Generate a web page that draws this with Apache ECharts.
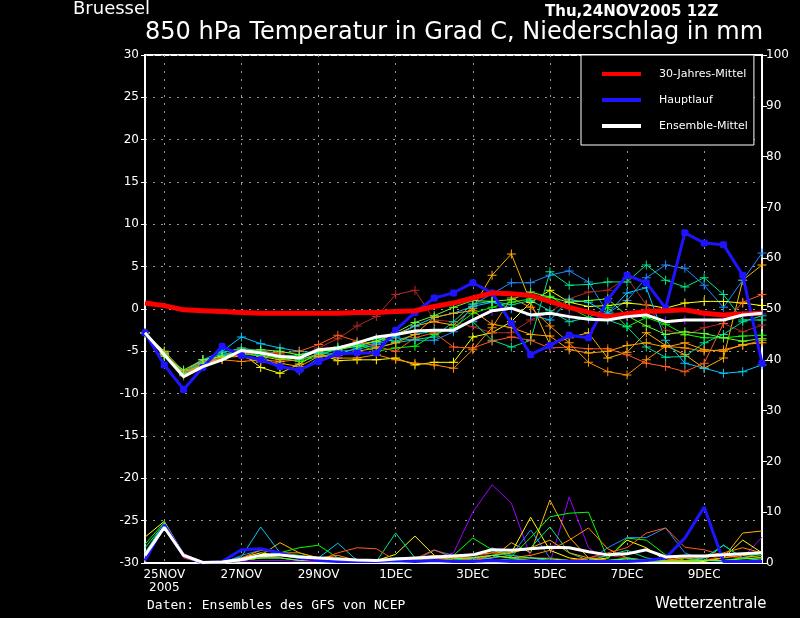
<!DOCTYPE html>
<html>
<head>
<meta charset="utf-8">
<script src="https://cdn.jsdelivr.net/npm/echarts@6/dist/echarts.min.js"></script>
<style>
html, body { margin: 0; padding: 0; background: #000; }
#chart { width: 800px; height: 618px; }
</style>
</head>
<body>
<div id="chart"></div>
<script>
// 12-hourly forecast steps, 24NOV2005 12Z .. 10DEC2005 12Z
var steps = ['24NOV12','25NOV00','25NOV12','26NOV00','26NOV12','27NOV00','27NOV12','28NOV00','28NOV12',
  '29NOV00','29NOV12','30NOV00','30NOV12','01DEC00','01DEC12','02DEC00','02DEC12','03DEC00','03DEC12',
  '04DEC00','04DEC12','05DEC00','05DEC12','06DEC00','06DEC12','07DEC00','07DEC12','08DEC00','08DEC12',
  '09DEC00','09DEC12','10DEC00','10DEC12'];
var tickLabels = ['25NOV\n2005','27NOV','29NOV','1DEC','3DEC','5DEC','7DEC','9DEC'];

// temperature 850 hPa (left axis)
var tempClimate = [0.7,0.4,-0.1,-0.2,-0.3,-0.4,-0.5,-0.5,-0.5,-0.5,-0.5,-0.4,-0.4,-0.3,-0.2,0.3,0.7,1.3,1.9,1.8,1.6,0.9,0.2,-0.4,-0.9,-0.6,-0.3,-0.2,-0.1,-0.5,-0.7,-0.6,-0.5];
var tempMain = [-2.8,-6.6,-9.5,-6.9,-4.4,-5.5,-6.0,-6.8,-7.2,-6.2,-5.3,-5.2,-5.2,-2.5,-0.4,1.3,1.9,3.1,1.9,-1.7,-5.4,-4.3,-3.1,-3.4,1.1,4.0,3.1,0.1,9.0,7.8,7.6,4.0,-6.4];
var tempMean = [-2.8,-5.4,-8.0,-6.8,-6.0,-4.9,-5.2,-5.6,-5.8,-4.8,-4.6,-4.0,-3.3,-3.0,-2.6,-2.5,-2.5,-1.3,-0.2,0.1,-0.7,-0.5,-0.9,-1.2,-1.3,-0.9,-0.7,-1.5,-1.3,-1.3,-1.3,-0.7,-0.5];

var tempGold   = [-2.8,-5.2,-7.6,-6.5,-5.8,-5.2,-5.6,-6.0,-5.8,-5.0,-4.8,-4.2,-3.8,-3.0,-2.0,-1.5,-1.9,0.1,4.0,6.5,0.8,-4.2,-3.4,-2.8,-5.8,-5.1,-2.8,-4.3,-5.4,-7.0,-5.8,3.4,5.2];
var tempBlue   = [-2.8,-5.4,-7.8,-6.6,-5.4,-5.0,-5.5,-6.8,-7.3,-5.8,-5.0,-4.8,-4.2,-3.4,-3.7,-3.7,-2.7,0.5,1.8,3.1,3.1,4.0,4.5,3.2,-0.5,1.0,3.7,5.2,4.8,2.8,0.2,3.4,6.6];
var tempYellow = [-2.8,-5.0,-7.4,-6.0,-5.6,-5.2,-6.9,-7.6,-6.5,-5.2,-6.1,-6.0,-6.0,-5.8,-6.6,-6.3,-6.3,-3.3,-2.8,-1.5,0.8,2.2,0.8,0.3,0.4,0.7,0.5,0.1,0.7,0.9,0.9,0.7,0.4];
var tempDarkRed= [-2.8,-5.3,-7.4,-6.2,-5.5,-4.6,-5.0,-5.4,-5.6,-4.6,-3.5,-2.0,-0.9,1.7,2.2,-1.3,-1.5,-2.1,-2.8,-2.8,-1.3,-0.4,1.2,2.0,2.2,3.7,0.5,-2.5,-3.1,-2.2,-1.7,-2.7,-1.9];
var tempCyan   = [-2.8,-5.3,-7.5,-6.0,-5.0,-3.3,-4.1,-4.6,-5.0,-5.2,-5.4,-4.6,-4.0,-3.2,-2.0,-1.0,-0.5,0.3,0.8,0.1,-0.7,-1.3,1.1,0.8,-0.5,1.9,2.5,-3.7,-6.4,-7.0,-7.6,-7.4,-6.6];
var tempSpring = [-2.8,-5.2,-7.6,-6.4,-5.5,-4.8,-5.2,-5.6,-5.4,-4.9,-4.5,-4.0,-3.5,-3.8,-3.0,-2.6,-2.4,-1.5,-3.7,-4.5,-3.7,4.4,2.8,2.9,3.2,3.2,5.2,3.4,2.6,3.7,1.7,-1.3,-1.3];
var tempGreen  = [-2.8,-5.5,-7.8,-6.8,-5.9,-5.3,-5.5,-5.8,-6.2,-5.6,-4.6,-4.2,-5.0,-4.6,-4.4,-3.0,-2.2,-0.5,0.2,0.8,1.2,1.5,0.2,-1.0,0.2,-2.1,-1.0,-1.8,-3.0,-3.4,-3.4,-3.2,-3.1];
var tempOrRed  = [-2.8,-5.3,-7.4,-6.2,-5.8,-5.4,-5.0,-5.2,-5.0,-4.2,-3.1,-3.8,-4.4,-5.0,-3.4,-2.8,-4.5,-4.6,-3.8,-3.3,-3.7,-4.6,-4.5,-4.7,-4.7,-5.4,-6.4,-6.8,-7.4,-6.4,-1.7,0.8,1.7];
var tempOrange = [-2.8,-5.4,-7.7,-6.6,-6.0,-6.2,-6.0,-6.2,-6.0,-5.4,-5.8,-5.8,-5.4,-6.0,-6.4,-6.6,-7.0,-4.8,-2.2,1.3,0.2,-2.0,-4.0,-6.3,-7.4,-7.8,-6.0,-4.4,-4.6,-5.0,-4.8,-4.3,-3.7];
var tempTeal   = [-2.8,-5.2,-7.5,-6.3,-5.2,-4.6,-5.0,-5.5,-6.0,-5.3,-4.8,-4.2,-4.6,-4.0,-3.6,-3.3,-1.5,0.6,0.9,0.5,1.0,-0.2,-1.5,-1.0,-1.3,-2.1,-4.5,-5.7,-5.6,-4.0,-3.0,-1.5,-0.8];
var tempAmber  = [-2.8,-5.3,-7.6,-6.5,-5.7,-5.6,-6.3,-6.4,-6.8,-5.6,-5.5,-5.0,-4.6,-4.0,-3.0,-1.0,-0.5,-0.2,-1.8,-2.2,-3.0,-3.2,-4.8,-5.2,-5.0,-4.3,-4.0,-4.5,-4.0,-4.8,-5.0,-4.2,-4.0];
var tempLime   = [-2.8,-5.6,-7.2,-6.0,-5.6,-5.0,-4.8,-5.0,-5.4,-5.0,-4.8,-4.4,-3.8,-2.8,-1.6,-0.8,0.2,1.0,0.9,1.1,2.0,1.4,0.8,1.0,1.2,-0.8,-2.0,-3.0,-2.7,-2.9,-3.4,-3.8,-3.5];
var tempPurple = [-2.8,-5.4,-7.9,-6.7,-5.9,-4.9,-5.2,-5.5,-5.7,-4.8,-4.6,-4.0,-3.4,-3.0,-2.7,-2.5,-2.4,-1.4,-0.3,0.0,-0.7,-0.6,-0.9,-1.2,-1.3,-1.0,-0.8,-1.4,-1.3,-1.3,-1.2,-0.8,-0.6];

// precipitation in mm (right axis)
var rainMain = [0.5,7.5,1.5,0,0.3,2.6,2.8,2.0,1.0,0.5,0.3,0.3,0.3,0.5,0.3,0.5,0.3,0.3,0.5,0.3,0.3,0.3,0.3,0.3,0.3,0.3,0.5,1.0,4.9,11.0,0.3,0.3,0.3];
var rainMean = [1.5,7.0,1.5,0.1,0.2,0.7,1.5,1.6,1.2,1.0,0.8,0.6,0.5,0.8,1.0,1.2,1.4,1.6,2.6,2.5,2.8,3.1,3.0,2.2,1.6,1.8,2.6,1.2,1.4,1.4,1.6,1.8,2.0];
var rainGold   = [1.0,7.8,1.2,0,0,0.5,1.5,4.0,2.0,1.0,0.5,0.3,0.2,0.5,0.8,1.0,1.5,0.5,1.0,4.0,2.0,12.4,5.1,1.0,0.5,0.5,0.3,0.5,1.0,0.5,1.0,5.9,6.3];
var rainBlue   = [0.5,7.6,1.4,0,0,1.5,2.5,2.0,1.0,0.5,0.3,0.3,0.5,0.3,0.5,2.5,1.5,1.0,3.0,1.5,6.5,1.0,0.5,0.5,3.0,5.0,5.0,6.9,2.0,0.5,0.3,0.3,0.5];
var rainYellow = [5.1,8.2,1.8,0.2,0,1.0,2.0,1.5,1.0,0.5,0.8,0.5,0.5,1.7,5.3,1.5,0.5,0.5,1.5,2.0,9.0,2.5,1.0,0.5,1.0,4.5,3.0,0.5,0.2,0.3,1.0,4.5,2.0];
var rainDarkRed= [0.3,7.4,1.0,0,0,0.5,1.0,1.0,0.5,0.3,0.5,0.5,0.3,0.3,0.5,0.5,0.8,1.0,2.0,1.5,1.0,1.0,0.5,1.0,1.5,1.0,0.5,1.0,0.5,0.5,1.5,1.0,1.5];
var rainCyan   = [1.2,8.0,1.5,0,0.2,1.2,7.1,2.0,1.0,1.0,3.9,0.5,0.3,0.2,0.3,0.5,0.5,0.8,1.0,1.5,1.0,0.5,0.3,0.5,0.3,0.5,0.5,0.3,0.3,0.5,0.5,0.3,0.5];
var rainSpring = [3.0,7.7,1.6,0,0,0.8,1.5,2.0,1.5,1.0,0.5,0.3,0.3,5.9,1.0,0.5,0.5,1.0,1.5,2.0,3.0,7.1,2.0,0.5,1.5,2.5,1.0,0.5,0.3,0.5,3.5,1.0,2.0];
var rainGreen  = [3.7,8.0,1.6,0,0,0.5,1.0,2.0,3.0,3.5,1.0,0.5,0.3,0.5,0.5,1.0,1.5,4.9,2.6,1.2,5.0,9.1,9.8,10.0,0.8,4.9,4.5,1.6,0.5,0.5,0.5,1.0,1.5];
var rainOrRed  = [0.5,7.5,1.2,0,0,1.0,1.5,1.5,1.0,0.5,2.0,3.0,2.8,0.5,0.8,2.6,1.0,0.5,1.5,1.0,0.5,0.5,0.5,1.0,2.0,3.0,5.9,6.9,3.1,2.6,1.5,1.0,0.5];
var rainOrange = [0.8,7.7,1.5,0,0,1.0,2.5,2.0,2.0,1.0,1.5,0.5,0.5,0.5,1.0,1.5,1.0,1.0,1.5,1.0,1.5,2.5,4.5,6.9,2.8,1.0,0.5,0.5,1.0,1.0,2.0,3.0,2.0];
var rainTeal   = [2.0,7.9,1.4,0,0,0.5,1.0,1.0,0.5,0.5,0.3,0.3,0.5,1.0,1.0,0.5,0.3,0.3,0.5,0.8,0.5,0.5,0.3,0.3,0.5,1.0,0.5,0.3,0.5,1.0,3.5,1.0,0.5];
var rainAmber  = [0.5,7.6,1.3,0,0,0.5,1.0,1.5,1.0,0.8,0.5,0.5,0.5,0.5,0.5,0.8,1.0,1.5,2.0,2.0,3.0,4.5,2.0,1.0,0.5,0.5,0.5,0.5,0.5,0.5,1.0,1.5,1.0];
var rainLime   = [1.5,7.8,1.5,0,0,0.5,1.0,1.0,0.5,0.5,0.5,0.3,0.3,0.5,0.5,0.5,0.8,1.0,1.5,1.0,1.0,0.8,0.5,0.5,0.5,0.8,0.5,0.3,0.3,0.5,0.5,0.8,1.0];
var rainPurple = [0.3,7.5,1.0,0,0,0.3,0.5,0.5,0.3,0.3,0.3,0.3,0.3,0.3,0.5,0.8,2.0,10.0,15.4,11.8,1.2,0,13.0,3.0,0.3,0.3,0.3,0.3,0.5,0.5,0.5,1.0,5.1];

var members = [
  ['#a000ff', tempPurple, rainPurple],
  ['#ffb400', tempGold, rainGold],
  ['#1e8cff', tempBlue, rainBlue],
  ['#ffff00', tempYellow, rainYellow],
  ['#b42828', tempDarkRed, rainDarkRed],
  ['#00c8ff', tempCyan, rainCyan],
  ['#00e68c', tempSpring, rainSpring],
  ['#00ff00', tempGreen, rainGreen],
  ['#ff5a1e', tempOrRed, rainOrRed],
  ['#ff8c00', tempOrange, rainOrange],
  ['#00dca0', tempTeal, rainTeal],
  ['#ffa000', tempAmber, rainAmber],
  ['#64ff32', tempLime, rainLime]
];

var FONT = '"DejaVu Sans", sans-serif';
var PLUS = 'path://M4,0H5V4H9V5H5V9H4V5H0V4H4Z';
var onTick = function (i) { return (i - 1) % 4 === 0; };

var series = [];
members.forEach(function (m) {
  series.push({
    type: 'line', yAxisIndex: 1, data: m[2], symbol: 'none',
    lineStyle: { color: m[0], width: 1 }, z: 2
  });
});
members.forEach(function (m) {
  series.push({
    type: 'line', yAxisIndex: 0, data: m[1], symbol: PLUS, symbolSize: 9,
    showAllSymbol: true, itemStyle: { color: m[0] },
    lineStyle: { color: m[0], width: 1 }, z: 3
  });
});
series.push(
  { name: 'Hauptlauf', type: 'line', yAxisIndex: 1, data: rainMain, symbol: 'none', color: '#1e14ff',
    lineStyle: { width: 3 }, z: 4 },
  { name: 'Hauptlauf', type: 'line', yAxisIndex: 0, data: tempMain, symbol: 'roundRect', symbolSize: 7,
    showAllSymbol: true, color: '#1e14ff', lineStyle: { width: 3 }, z: 4 },
  { name: '30-Jahres-Mittel', type: 'line', yAxisIndex: 0, data: tempClimate, symbol: 'none', color: '#ff0000',
    lineStyle: { width: 5 }, z: 5 },
  { name: 'Ensemble-Mittel', type: 'line', yAxisIndex: 1, data: rainMean, symbol: 'none', color: '#ffffff',
    lineStyle: { width: 3 }, z: 6 },
  { name: 'Ensemble-Mittel', type: 'line', yAxisIndex: 0, data: tempMean, symbol: 'none', color: '#ffffff',
    lineStyle: { width: 3 }, z: 6 }
);

var chart = echarts.init(document.getElementById('chart'));
chart.setOption({
  animation: false,
  backgroundColor: '#000',
  grid: { left: 145, right: 38, top: 55, bottom: 55, show: true, borderColor: '#fff', borderWidth: 2 },
  legend: {
    data: ['30-Jahres-Mittel', 'Hauptlauf', 'Ensemble-Mittel'],
    orient: 'vertical', left: 581, top: 55,
    padding: [12, 6, 12, 21], itemGap: 12,
    itemWidth: 39, itemHeight: 4, icon: 'rect',
    backgroundColor: '#000', borderColor: '#fff', borderWidth: 1,
    selectedMode: false,
    textStyle: { color: '#fff', fontSize: 11, lineHeight: 14, fontFamily: FONT, padding: [0, 0, 0, 13] }
  },
  xAxis: {
    type: 'category', data: steps, boundaryGap: false,
    axisLine: { onZero: false, lineStyle: { color: '#fff', width: 2 } },
    axisTick: { show: false, interval: onTick },
    axisLabel: {
      interval: onTick, color: '#fff', fontSize: 12, fontFamily: FONT, lineHeight: 13, margin: 5,
      formatter: function (v, i) { return tickLabels[(i - 1) / 4]; }
    },
    splitLine: { show: true, interval: onTick, lineStyle: { color: '#999', type: [2, 6], width: 1 } }
  },
  yAxis: [
    {
      type: 'value', min: -30, max: 30, interval: 5,
      axisLine: { show: true, lineStyle: { color: '#fff', width: 2 } },
      axisTick: { show: true, length: 4, lineStyle: { color: '#fff' } },
      axisLabel: { color: '#fff', fontSize: 12, fontFamily: FONT, margin: 6 },
      splitLine: { lineStyle: { color: '#999', type: [2, 6], width: 1 } }
    },
    {
      type: 'value', min: 0, max: 100, interval: 10, position: 'right',
      axisLine: { show: true, lineStyle: { color: '#fff', width: 2 } },
      axisTick: { show: true, length: 5, lineStyle: { color: '#fff' } },
      axisLabel: { color: '#fff', fontSize: 12, fontFamily: FONT, margin: 4 },
      splitLine: { show: false }
    }
  ],
  graphic: [
    { type: 'text', left: 73, top: 0, style: { text: 'Bruessel', fill: '#fff', font: '18px ' + FONT } },
    { type: 'text', left: 545, top: 5, style: { text: 'Thu,24NOV2005 12Z', fill: '#fff', font: 'bold 15px ' + FONT } },
    { type: 'text', left: 145, top: 21, style: { text: '850 hPa Temperatur in Grad C, Niederschlag in mm', fill: '#fff', font: '24px ' + FONT } },
    { type: 'text', left: 147, top: 599, style: { text: 'Daten: Ensembles des GFS von NCEP', fill: '#fff', font: '13px "DejaVu Sans Mono", monospace' } },
    { type: 'text', left: 655, top: 597, style: { text: 'Wetterzentrale', fill: '#fff', font: '15px ' + FONT } }
  ],
  series: series
});
</script>
</body>
</html>
